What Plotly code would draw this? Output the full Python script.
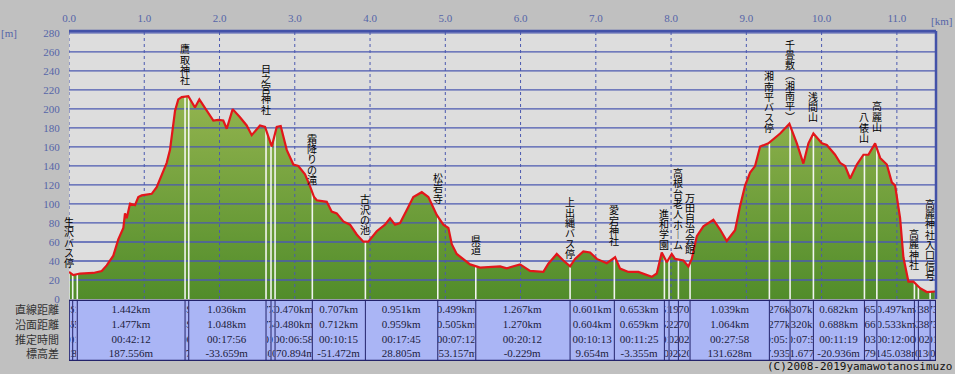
import numpy as np
import plotly.graph_objects as go

# ---------------- data ----------------
dist_km = [0.000,0.057,0.146,0.323,0.435,0.501,0.589,0.655,0.722,0.744,
           0.767,0.811,0.877,0.921,0.966,1.099,1.165,1.209,1.298,1.342,
           1.378,1.409,1.452,1.498,1.585,1.674,1.732,1.830,1.918,1.984,
           2.050,2.096,2.175,2.272,2.361,2.428,2.538,2.605,2.694,2.760,
           2.813,2.893,2.981,3.047,3.136,3.203,3.256,3.292,3.425,3.491,
           3.558,3.645,3.734,3.823,3.911,3.977,4.089,4.199,4.266,4.332,
           4.399,4.488,4.575,4.687,4.775,4.886,4.974,5.041,5.086,5.152,
           5.240,5.329,5.462,5.639,5.728,5.817,5.993,6.126,6.303,6.369,
           6.481,6.569,6.658,6.724,6.834,6.924,7.013,7.146,7.256,7.322,
           7.433,7.565,7.743,7.810,7.876,7.943,8.009,8.053,8.164,8.230,
           8.275,8.342,8.429,8.562,8.651,8.740,8.850,8.917,8.983,9.050,
           9.116,9.183,9.293,9.449,9.572,9.671,9.758,9.825,9.891,10.003,
           10.069,10.179,10.246,10.312,10.379,10.468,10.556,10.622,10.711,10.778,
           10.867,10.933,10.977,11.043,11.087,11.154,11.220,11.309,11.398,11.508]
elev_m = [28.5,25.1,26.8,27.4,29.5,35.4,45.6,62.8,74.7,90.1,
          85.0,100.4,98.8,107.3,109.0,110.7,117.6,126.1,143.3,156.9,
          181.0,198.0,210.1,212.4,213.5,201.5,210.1,198.0,187.8,188.5,
          187.8,179.2,199.8,191.3,182.6,172.4,182.6,181.0,160.4,181.0,
          182.0,156.9,141.5,139.9,131.2,118.6,107.3,103.9,102.2,91.9,
          90.1,81.6,78.2,67.9,60.3,60.3,71.3,78.2,85.0,78.2,
          79.9,93.6,107.3,112.4,107.3,88.5,78.2,74.7,57.7,47.4,
          42.2,36.4,33.0,33.6,34.3,32.3,36.4,29.5,28.5,37.1,
          47.4,40.5,34.3,42.2,50.1,49.0,42.2,37.7,43.9,32.0,
          28.5,28.5,23.3,26.8,49.0,38.7,47.4,42.2,40.5,34.3,
          42.2,66.2,76.5,83.4,73.1,61.0,72.4,98.0,119.3,133.0,
          139.9,160.4,163.8,174.1,184.4,163.8,142.5,163.8,174.1,163.8,
          162.1,151.8,143.3,139.9,126.8,141.5,151.8,151.8,163.8,148.4,
          141.5,122.7,119.3,85.0,43.9,18.2,18.2,11.4,7.3,7.9]

wp_km = [0.000,0.049,0.110,1.542,1.591,2.618,2.684,2.738,3.233,3.938,
         4.900,5.405,6.658,7.246,7.911,7.973,8.097,8.252,9.306,9.581,
         9.891,10.569,10.734,11.233,11.286,11.442,11.515]
wp_names = ["生沢バス停","","","鷹取神社","","日之宮神社","","","霜降りの滝","古沢の池",
            "松岩寺","県道","上出縄バス停","愛宕神社","進和学園","","高根台老人ホーム","万田自治会館","湘南平バス停","千畳敷(湘南平)",
            "浅間山","八俵山","高麗山","高麗神社","","高麗神社入口信号",""]

seg_straight = ["0.049km","0.061km","1.442km","0.049km","1.036km","0.077km","0.053km","0.470km","0.707km","0.951km",
                "0.499km","1.267km","0.601km","0.653km","0.051km","0.119km","0.170km","1.039km","0.276km","0.307km",
                "0.682km","0.165km","0.497km","0.051km","0.138km","0.073km"]
seg_surface = ["0.055km","0.065km","1.477km","0.049km","1.048km","0.077km","0.054km","0.480km","0.712km","0.959km",
               "0.505km","1.270km","0.604km","0.659km","0.052km","0.122km","0.170km","1.064km","0.277km","0.320km",
               "0.688km","0.166km","0.533km","0.052km","0.138km","0.073km"]
seg_time = ["00:01:00","00:01:10","00:42:12","00:00:50","00:17:56","00:01:11","00:01:00","00:06:58","00:10:15","00:17:45",
            "00:07:12","00:20:12","00:10:13","00:11:25","00:01:02","00:02:02","00:02:02","00:27:58","00:05:10","00:07:50",
            "00:11:19","00:03:00","00:12:00","00:01:02","00:02:11","00:01:05"]
seg_dz = ["-0.510m","0.580m","187.556m","-1.270m","-33.659m","-3.800m","-3.000m","-70.894m","-51.472m","28.805m",
          "-53.157m","-0.229m","9.654m","-3.355m","9.200m","-5.920m","3.520m","131.628m","17.935m","-11.677m",
          "-20.936m","11.790m","-145.038m","-1.300m","-5.130m","0.600m"]
row_titles = ["直線距離", "沿面距離", "推定時間", "標高差"]

x_ticks = [0.0,1.0,2.0,3.0,4.0,5.0,6.0,7.0,8.0,9.0,10.0,11.0]
y_ticks = [0,20,40,60,80,100,120,140,160,180,200,220,240,260,280]

# ---------------- layout parameters (styling) ----------------
W, H = 955, 374
ML, MR, MT, MB = 69, 19, 25, 75
XMAX, YMAX = 11.52, 282
PLOT_W = W - ML - MR
PLOT_H = H - MT - MB
PX_PER_KM = PLOT_W / XMAX

# label placement: centre of the first character, in metres
label_top = {0: 81.6, 3: 263.2, 5: 243.0, 8: 169.0, 9: 105.5, 10: 127.9, 11: 63.1,
             12: 102.2, 13: 93.9, 14: 90.1, 16: 133.0, 17: 107.3, 18: 234.7,
             19: 268.3, 20: 213.2, 21: 191.6, 22: 203.2, 23: 68.8, 25: 100.6}
CHAR_PITCH = 10.3
vert_map = {"(": "︵", ")": "︶", "ー": "︱"}

GRID = "#4b59b0"
TICK_COL = "#5565a8"
SERIF = "Liberation Serif, DejaVu Serif, serif"
JP = "Noto Sans CJK JP, sans-serif"

fig = go.Figure()

# green filled profile
fig.add_trace(go.Scatter(
    x=dist_km, y=elev_m, mode="lines", line=dict(width=0, color="rgba(0,0,0,0)"),
    fill="tozeroy",
    fillgradient=dict(type="vertical", start=0, stop=215,
                      colorscale=[[0, "#4f8b29"], [1, "#93b44f"]]),
    hoverinfo="skip"))

# horizontal gridlines
gx, gy = [], []
for v in y_ticks[1:]:
    gx += [0, XMAX, None]
    gy += [v, v, None]
fig.add_trace(go.Scatter(x=gx, y=gy, mode="lines", line=dict(color=GRID, width=1.3),
                         hoverinfo="skip"))

# vertical dotted gridlines
vx, vy = [], []
for t in x_ticks:
    vx += [t, t, None]
    vy += [0, YMAX, None]
fig.add_trace(go.Scatter(x=vx, y=vy, mode="lines", line=dict(color=GRID, width=1, dash="dot"),
                         hoverinfo="skip"))

# white waypoint lines
wx, wy = [], []
for k in wp_km:
    wx += [k, k, None]
    wy += [0, float(np.interp(k, dist_km, elev_m)), None]
fig.add_trace(go.Scatter(x=wx, y=wy, mode="lines", line=dict(color="rgba(250,250,250,0.95)", width=1.6),
                         hoverinfo="skip"))

# red profile line
fig.add_trace(go.Scatter(x=dist_km, y=elev_m, mode="lines",
                         line=dict(color="#e3161a", width=2.2), hoverinfo="skip"))

ann = []
# waypoint vertical labels (stacked characters)
for i, name in enumerate(wp_names):
    if not name:
        continue
    for j, ch in enumerate(name):
        ann.append(dict(x=wp_km[i], y=label_top[i], xref="x", yref="y", yshift=-j * CHAR_PITCH,
                        text=vert_map.get(ch, ch), showarrow=False, xanchor="center", yanchor="middle",
                        font=dict(family=JP, size=10, color="#000000")))

# table
def py2paper(py):
    return (H - MB - py) / PLOT_H

T_TOP, T_BOT = py2paper(300.5), py2paper(361.7)
row_y = [py2paper(p) for p in (309.5, 324.5, 339.5, 354.5)]
shapes = [dict(type="rect", xref="x", yref="paper", x0=wp_km[0], x1=wp_km[-1], y0=T_BOT, y1=T_TOP,
               fillcolor="#aab5f5", line=dict(color="#23236b", width=1.3), layer="above")]
for k in wp_km:
    shapes.append(dict(type="line", xref="x", yref="paper", x0=k, x1=k, y0=T_BOT, y1=T_TOP,
                       line=dict(color="#23236b", width=1), layer="above"))

rows = [seg_straight, seg_surface, seg_time, seg_dz]
for i in range(len(wp_km) - 1):
    xm = (wp_km[i] + wp_km[i + 1]) / 2
    wpx = (wp_km[i + 1] - wp_km[i]) * PX_PER_KM - 1.5
    if wpx < 1:
        continue
    for r, vals in enumerate(rows):
        ann.append(dict(x=xm, y=row_y[r], xref="x", yref="paper", text=vals[i], showarrow=False,
                        xanchor="center", yanchor="middle", width=wpx, height=14, borderpad=0,
                        align="center", font=dict(family=SERIF, size=11, color="#1c1c3c")))
for r, t in enumerate(row_titles):
    ann.append(dict(x=(61 - ML) / PLOT_W, y=row_y[r], xref="paper", yref="paper", text=t,
                    showarrow=False, xanchor="right", yanchor="middle",
                    font=dict(family=JP, size=11, color="#333333")))

# frame borders
shapes.append(dict(type="line", xref="paper", yref="paper", x0=0, x1=1, y0=1, y1=1,
                   line=dict(color="#4352a8", width=2.5), layer="above"))
shapes.append(dict(type="line", xref="paper", yref="paper", x0=1, x1=1, y0=0, y1=1,
                   line=dict(color="#4352a8", width=2.5), layer="above"))

# unit labels and copyright
ann.append(dict(x=(9 - ML) / PLOT_W, y=py2paper(27), xref="paper", yref="paper", text="[m]",
                showarrow=False, xanchor="center", yanchor="middle",
                font=dict(family=SERIF, size=11, color=TICK_COL)))
ann.append(dict(x=(954 - ML) / PLOT_W, y=py2paper(15), xref="paper", yref="paper", text="[km]",
                showarrow=False, xanchor="right", yanchor="middle",
                font=dict(family=SERIF, size=11, color=TICK_COL)))
ann.append(dict(x=(954 - ML) / PLOT_W, y=py2paper(367.5), xref="paper", yref="paper",
                text="(C)2008-2019yamawotanosimuzo", showarrow=False, xanchor="right", yanchor="middle",
                font=dict(family="DejaVu Sans Mono, monospace", size=11, color="#111111")))

fig.update_layout(
    width=W, height=H, margin=dict(l=ML, r=MR, t=MT, b=MB, pad=0),
    paper_bgcolor="#c0c0c0", plot_bgcolor="#dddddd",
    showlegend=False, hovermode=False,
    annotations=ann, shapes=shapes,
    xaxis=dict(range=[0, XMAX], side="top", tickvals=x_ticks, ticktext=[f"{t:.1f}" for t in x_ticks],
               showgrid=False, zeroline=False, showline=False, ticks="outside", ticklen=4,
               tickcolor="rgba(0,0,0,0)", tickfont=dict(family=SERIF, size=11, color=TICK_COL),
               fixedrange=True),
    yaxis=dict(range=[0, YMAX], tickvals=y_ticks, ticktext=[str(v) for v in y_ticks],
               showgrid=False, zeroline=False, showline=False, ticks="outside", ticklen=6,
               tickcolor="rgba(0,0,0,0)", tickfont=dict(family=SERIF, size=11, color=TICK_COL),
               fixedrange=True),
)

fig.write_html("out.html", config={"displayModeBar": False},
               post_script="document.body.style.margin='0';document.body.style.overflow='hidden';")
